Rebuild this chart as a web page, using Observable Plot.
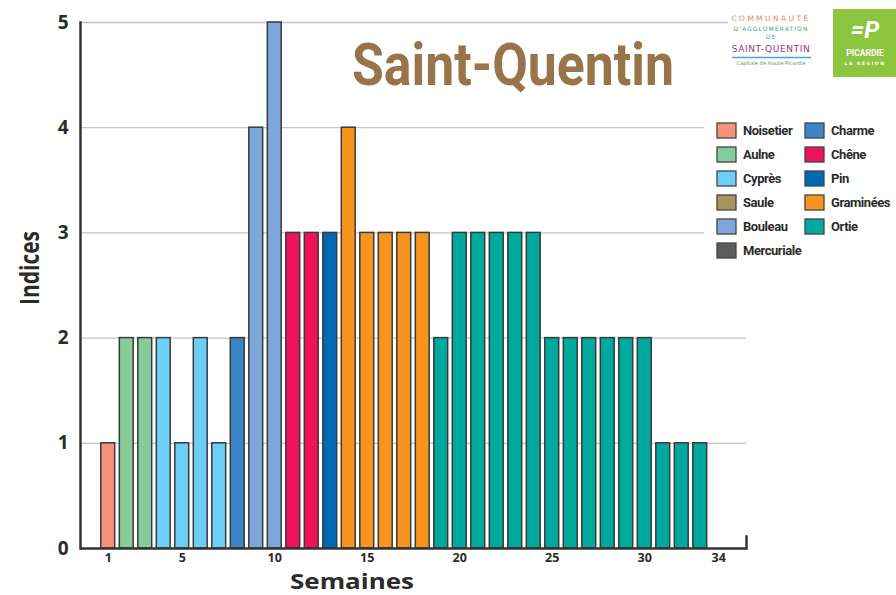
<!DOCTYPE html>
<html>
<head>
<meta charset="utf-8">
<script src="https://cdn.jsdelivr.net/npm/d3@7"></script>
<script src="https://cdn.jsdelivr.net/npm/@observablehq/plot@0.6"></script>
<style>
  html, body { margin: 0; padding: 0; background: #fff; }
  #wrap { position: relative; width: 896px; height: 595px; overflow: hidden; }
  #over { position: absolute; left: 0; top: 0; pointer-events: none; }
</style>
</head>
<body>
<div id="wrap"><div id="chart"></div><svg id="over" width="896" height="595"></svg></div>
<script>
// ---- data ----
const weeks = d3.range(1, 34);
const indices = [1,2,2,2,1,2,1,2,4,5,3,3,3,4,3,3,3,3,2,3,3,3,3,3,2,2,2,2,2,2,1,1,1];
const species = [
  "Noisetier","Aulne","Aulne","Cyprès","Cyprès","Cyprès","Cyprès","Charme",
  "Bouleau","Bouleau","Chêne","Chêne","Pin",
  "Graminées","Graminées","Graminées","Graminées","Graminées",
  "Ortie","Ortie","Ortie","Ortie","Ortie","Ortie","Ortie","Ortie",
  "Ortie","Ortie","Ortie","Ortie","Ortie","Ortie","Ortie"
];
const legendCol1 = ["Noisetier","Aulne","Cyprès","Saule","Bouleau","Mercuriale"];
const legendCol2 = ["Charme","Chêne","Pin","Graminées","Ortie"];
const colors1 = ["#F4937A","#86CB9A","#6DCFF6","#A6955E","#7DA7D9","#5B5C5E"];
const colors2 = ["#3B86C7","#ED145B","#0069B4","#F7941D","#00A99D"];
const xTicks = [1,5,10,15,20,25,30,34];
const yTicks = [0,1,2,3,4,5];
const gridTicks = [1,2,3,4,5];
const xSlots = d3.range(0, 36);

const data = weeks.map((w, i) => ({week: w, value: indices[i], species: species[i]}));
const names = legendCol1.concat(legendCol2);
const palette = colors1.concat(colors2);

const chart = Plot.plot({
  width: 896, height: 595,
  marginLeft: 80, marginRight: 150, marginTop: 22, marginBottom: 47,
  style: {fontFamily: "'Open Sans', sans-serif", color: "#2b2b2b", background: "#fff"},
  x: {type: "band", domain: xSlots, paddingInner: 0.25, paddingOuter: 0.125, align: 0.5, round: false},
  y: {domain: [0, 5]},
  color: {domain: names, range: palette},
  marks: [
    Plot.gridY(gridTicks, {stroke: "#c4c4c4", strokeOpacity: 1, strokeWidth: 1.3}),
    Plot.barY(data, {x: "week", y: "value", fill: "species", stroke: "#3a3a3a", strokeWidth: 1.5}),
    Plot.ruleY([0], {stroke: "#333", strokeWidth: 2.5}),
    Plot.frame({anchor: "left", stroke: "#333", strokeWidth: 2.5}),
    Plot.frame({anchor: "right", stroke: "#333", strokeWidth: 2.5, insetTop: 514}),
    Plot.axisX(xTicks, {tickSize: 0, tickPadding: 5, fontSize: 12.5, fontWeight: "bold", label: null}),
    Plot.axisY(yTicks, {tickSize: 0, tickPadding: 12, fontSize: 19, fontWeight: "bold", label: null, tickFormat: d3.format("d")})
  ]
});
document.getElementById("chart").appendChild(chart);

// ---- overlay texts: title, axis labels, legend, logos ----
const svg = d3.select("#over");

svg.append("text").text("Saint-Quentin")
  .attr("x", 352).attr("y", 85)
  .attr("font-family", "Roboto, sans-serif").attr("font-weight", "bold").attr("font-size", 60)
  .attr("textLength", 322).attr("lengthAdjust", "spacingAndGlyphs")
  .attr("fill", "#98744A");

svg.append("text").text("Indices")
  .attr("transform", "translate(39,268) rotate(-90)")
  .attr("text-anchor", "middle")
  .attr("font-family", "'Open Sans', sans-serif").attr("font-weight", "bold").attr("font-size", 27)
  .attr("textLength", 74).attr("lengthAdjust", "spacingAndGlyphs")
  .attr("fill", "#2b2b2b");

svg.append("text").text("Semaines")
  .attr("x", 352).attr("y", 589).attr("text-anchor", "middle")
  .attr("font-family", "'Open Sans', sans-serif").attr("font-weight", "bold").attr("font-size", 21)
  .attr("textLength", 124).attr("lengthAdjust", "spacingAndGlyphs")
  .attr("fill", "#2b2b2b");

// legend
const lg = svg.append("g");
lg.append("rect").attr("x", 704).attr("y", 112).attr("width", 192).attr("height", 150).attr("fill", "#fff");
function legendColumn(items, cols, x0) {
  items.forEach((n, i) => {
    const y = 123 + i * 24;
    lg.append("rect").attr("x", x0).attr("y", y).attr("width", 19).attr("height", 15)
      .attr("fill", cols[i]).attr("stroke", "#444").attr("stroke-width", 1.3);
    lg.append("text").text(n).attr("x", x0 + 26).attr("y", y + 12)
      .attr("font-family", "Roboto, sans-serif").attr("font-weight", "bold").attr("font-size", 13)
      .attr("letter-spacing", -0.45).attr("fill", "#2b2b2b");
  });
}
legendColumn(legendCol1, colors1, 717);
legendColumn(legendCol2, colors2, 805);

// logos
const lo = svg.append("g").attr("font-family", "'DejaVu Sans', sans-serif").attr("text-anchor", "middle");
lo.append("rect").attr("x", 728).attr("y", 0).attr("width", 168).attr("height", 80).attr("fill", "#fff");
lo.append("text").text("COMMUNAUTÉ").attr("x", 771).attr("y", 21).attr("font-size", 7.5)
  .attr("letter-spacing", 2.4).attr("fill", "#EE8459");
lo.append("text").text("D'AGGLOMÉRATION").attr("x", 771).attr("y", 31).attr("font-size", 6)
  .attr("letter-spacing", 1.1).attr("fill", "#3BA776");
lo.append("text").text("DE").attr("x", 771).attr("y", 39).attr("font-size", 6)
  .attr("letter-spacing", 1).attr("fill", "#3E9BD6");
lo.append("text").text("SAINT-QUENTIN").attr("x", 771).attr("y", 52).attr("font-size", 9)
  .attr("letter-spacing", 0.6).attr("fill", "#8A3A8C");
lo.append("line").attr("x1", 732).attr("x2", 811).attr("y1", 57.5).attr("y2", 57.5)
  .attr("stroke", "#4AA3DF").attr("stroke-width", 1.5);
lo.append("text").text("Capitale de Haute Picardie").attr("x", 771).attr("y", 65).attr("font-size", 5.2)
  .attr("fill", "#5A9C56");
lo.append("rect").attr("x", 833).attr("y", 9).attr("width", 63).attr("height", 68).attr("fill", "#8CC63E");
lo.append("text").text("=P").attr("x", 865).attr("y", 38).attr("font-size", 24)
  .attr("font-family", "Roboto, sans-serif").attr("font-weight", "bold").attr("font-style", "italic")
  .attr("fill", "#fff");
lo.append("text").text("PICARDIE").attr("x", 865).attr("y", 56).attr("font-size", 8.5)
  .attr("font-family", "Roboto, sans-serif").attr("font-weight", "bold").attr("fill", "#fff");
lo.append("text").text("LA RÉGION").attr("x", 865).attr("y", 65).attr("font-size", 4.5)
  .attr("letter-spacing", 1.5).attr("font-weight", "bold").attr("fill", "#fff");
</script>
</body>
</html>
